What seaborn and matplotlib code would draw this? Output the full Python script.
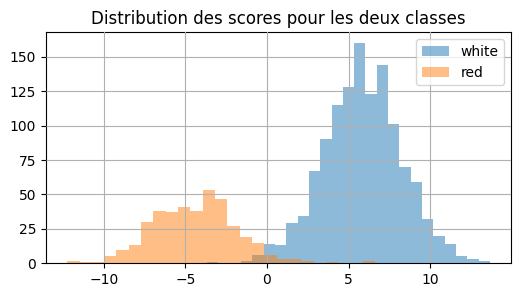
import numpy as np
import pandas as pd
import matplotlib
matplotlib.use("Agg")
import matplotlib.pyplot as plt
import seaborn as sns

# Histogram counts (25 bins per class)
white_start, white_end = -3.67, 13.67
white_counts = [1, 0, 0, 2, 6, 14, 13, 29, 34, 67, 90, 115, 128, 160, 123,
                144, 101, 70, 59, 32, 20, 14, 5, 3, 2]
red_start, red_end = -12.25, 6.63
red_counts = [2, 1, 1, 5, 10, 13, 30, 38, 37, 41, 38, 53, 47, 27, 19,
              15, 6, 3, 3, 2, 0, 1, 0, 0, 2]
labels = ["white", "red"]
title = "Distribution des scores pour les deux classes"

fig, ax = plt.subplots(figsize=(5.21, 2.97), dpi=100)
fig.subplots_adjust(left=0.0883, right=0.981, top=0.892, bottom=0.1135)

for (start, end, counts, lab, col) in [
    (white_start, white_end, white_counts, labels[0], "C0"),
    (red_start, red_end, red_counts, labels[1], "C1"),
]:
    edges = np.linspace(start, end, len(counts) + 1)
    centers = (edges[:-1] + edges[1:]) / 2
    df = pd.DataFrame({"score": centers, "n": np.asarray(counts, dtype=float)})
    sns.histplot(data=df, x="score", weights="n", bins=[float(e) for e in edges],
                 ax=ax, color=col, alpha=0.5, edgecolor="none", linewidth=0,
                 label=lab)

ax.set_ylabel("")
ax.set_xlabel("")
ax.set_xticks([-10, -5, 0, 5, 10])
ax.set_yticks([0, 25, 50, 75, 100, 125, 150])
ax.grid(True, color="#b0b0b0", linewidth=0.8)
ax.set_axisbelow(False)
ax.set_xlim(-13.55, 14.97)
ax.set_ylim(0, 168)
ax.set_title(title, fontsize=12)
ax.legend(loc="upper right")

fig.savefig("out.png", dpi=100)
